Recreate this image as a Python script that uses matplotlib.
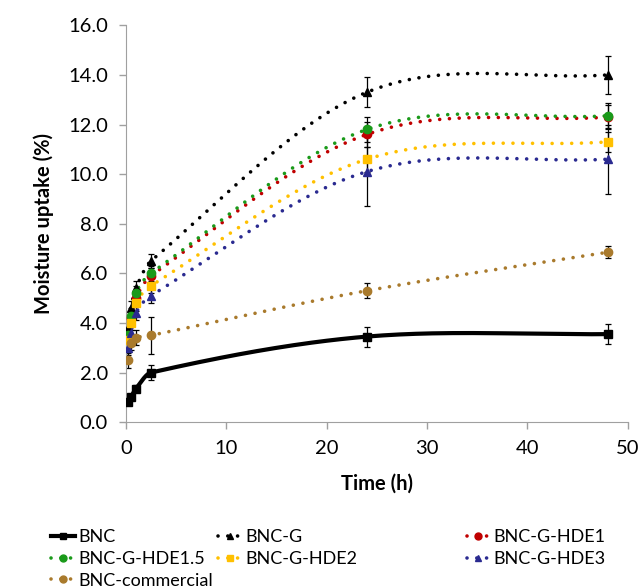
import matplotlib.pyplot as plt
import numpy as np
from matplotlib.lines import Line2D

plt.rcParams['font.family'] = ['Lato', 'DejaVu Sans']

time = [0.25, 0.5, 1, 2.5, 24, 48]

bnc = [0.8, 1.0, 1.35, 2.0, 3.45, 3.55]
bnc_err = [0.1, 0.1, 0.15, 0.3, 0.4, 0.4]
bnc_g = [3.8, 4.6, 5.4, 6.5, 13.3, 14.0]
bnc_g_err = [0.3, 0.3, 0.3, 0.3, 0.6, 0.75]
hde1 = [3.4, 4.2, 5.0, 5.9, 11.6, 12.3]
hde1_err = [0.3, 0.3, 0.3, 0.3, 0.5, 0.5]
hde15 = [3.5, 4.3, 5.2, 6.0, 11.8, 12.35]
hde15_err = [0.3, 0.3, 0.3, 0.3, 0.5, 0.5]
hde2 = [3.3, 4.0, 4.8, 5.5, 10.6, 11.3]
hde2_err = [0.3, 0.3, 0.3, 0.3, 0.5, 0.4]
hde3 = [3.0, 3.6, 4.4, 5.1, 10.1, 10.6]
hde3_err = [0.3, 0.3, 0.3, 0.3, 1.4, 1.4]
comm = [2.5, 3.2, 3.4, 3.5, 5.3, 6.85]
comm_err = [0.3, 0.3, 0.3, 0.75, 0.3, 0.25]

labels = ['BNC', 'BNC-G', 'BNC-G-HDE1', 'BNC-G-HDE1.5', 'BNC-G-HDE2',
          'BNC-G-HDE3', 'BNC-commercial']
values = [bnc, bnc_g, hde1, hde15, hde2, hde3, comm]
errors = [bnc_err, bnc_g_err, hde1_err, hde15_err, hde2_err, hde3_err, comm_err]
colors = ['black', 'black', '#C00000', '#1A9A1A', '#FFC000', '#2A2A90', '#A97A2C']
markers = ['s', '^', 'o', 'o', 's', '^', 'o']


def smooth(x, y, n=60):
    # cubic hermite with finite-difference tangents (like excel smoothed line)
    x = np.asarray(x, float)
    y = np.asarray(y, float)
    m = np.zeros_like(y)
    m[0] = (y[1] - y[0]) / (x[1] - x[0])
    m[-1] = (y[-1] - y[-2]) / (x[-1] - x[-2])
    for i in range(1, len(x) - 1):
        m[i] = (y[i+1] - y[i-1]) / (x[i+1] - x[i-1])
    xs, ys = [], []
    for i in range(len(x) - 1):
        h = x[i+1] - x[i]
        t = np.linspace(0, 1, n)
        h00 = 2*t**3 - 3*t**2 + 1
        h10 = t**3 - 2*t**2 + t
        h01 = -2*t**3 + 3*t**2
        h11 = t**3 - t**2
        xs.append(x[i] + t*h)
        ys.append(h00*y[i] + h10*h*m[i] + h01*y[i+1] + h11*h*m[i+1])
    return np.concatenate(xs), np.concatenate(ys)


fig = plt.figure(figsize=(6.42, 5.88), dpi=100)
ax = fig.add_axes([0.196, 0.282, 0.782, 0.675])

dots = (0, (0.01, 2.7))
handles = []
for i in range(len(labels)):
    xs, ys = smooth(time, values[i])
    if i == 0:
        ls, lw = '-', 3
    else:
        ls, lw = dots, 2.6
    ax.plot(xs, ys, color=colors[i], lw=lw, linestyle=ls,
            dash_capstyle='round', zorder=3)
    ax.errorbar(time, values[i], yerr=errors[i], fmt='none', ecolor='black',
                elinewidth=0.9, capsize=2.5, capthick=0.9, zorder=2)
    ax.plot(time, values[i], linestyle='none', marker=markers[i], color=colors[i],
            markersize=6, zorder=4)
    handles.append(Line2D([], [], color=colors[i], lw=lw, linestyle=ls,
                          dash_capstyle='round', marker=markers[i], markersize=5))

ax.set_xlim(0, 50)
ax.set_ylim(0, 16)
ax.set_xticks(range(0, 51, 10))
ax.set_yticks(np.arange(0, 16.1, 2))
ax.set_yticklabels(['%.1f' % v for v in np.arange(0, 16.1, 2)])
ax.tick_params(labelsize=14.5, color='#A0A0A0', length=5, width=1, pad=8)
for s in ['top', 'right']:
    ax.spines[s].set_visible(False)
for s in ['left', 'bottom']:
    ax.spines[s].set_color('#A0A0A0')
ax.set_xlabel('Time (h)', fontsize=14.5, fontweight='bold', labelpad=12)
ax.set_ylabel('Moisture uptake (%)', fontsize=14.5, fontweight='bold', labelpad=10)

cols = [[0, 3, 6], [1, 4], [2, 5]]
xpos = [0.08, 0.34, 0.727]
for c, xp in zip(cols, xpos):
    fig.legend([handles[k] for k in c], [labels[k] for k in c], loc='upper left',
               bbox_to_anchor=(xp, 0.1), frameon=False,
               fontsize=13, handlelength=1.3, handletextpad=0.2,
               labelspacing=0.32, borderpad=0, borderaxespad=0)

fig.savefig('out.png', dpi=100)
